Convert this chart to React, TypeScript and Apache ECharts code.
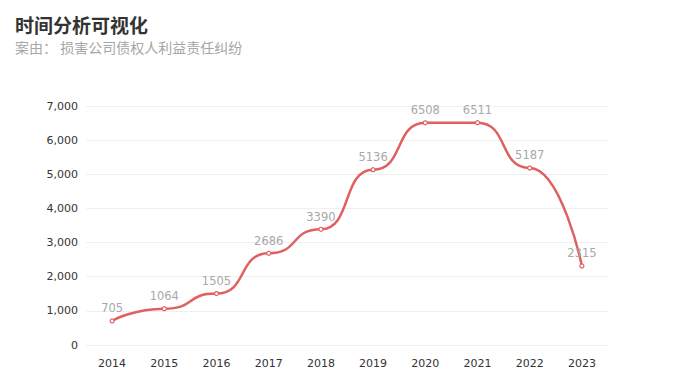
import React, { useEffect, useRef } from "react";
import * as echarts from "echarts";

const years = ["2014", "2015", "2016", "2017", "2018", "2019", "2020", "2021", "2022", "2023"];
const counts = [705, 1064, 1505, 2686, 3390, 5136, 6508, 6511, 5187, 2315];
const titleText = "时间分析可视化";
const subtitleText = "案由： 损害公司债权人利益责任纠纷";

export default function App() {
  const ref = useRef<HTMLDivElement>(null);
  useEffect(() => {
    if (!ref.current) return;
    const chart = echarts.init(ref.current, undefined, { renderer: "svg" });
    chart.setOption({
      animation: false,
      backgroundColor: "#ffffff",
      title: [
        {
          text: titleText,
          left: 15,
          top: 14,
          padding: 0,
          textStyle: {
            fontSize: 19,
            lineHeight: 20,
            fontWeight: "bold",
            color: "#333",
            fontFamily: "Noto Sans CJK SC",
          },
        },
        {
          text: subtitleText,
          left: 15,
          top: 39,
          padding: 0,
          textStyle: {
            fontSize: 14,
            lineHeight: 15,
            fontWeight: "normal",
            color: "#a6a6a6",
            fontFamily: "Noto Sans CJK SC",
          },
        },
      ],
      grid: { left: 86, right: 73, top: 106, bottom: 45 },
      xAxis: {
        type: "category",
        data: years,
        boundaryGap: true,
        axisLine: { show: false },
        axisTick: { show: false },
        axisLabel: { color: "#333", fontSize: 11, margin: 13, fontFamily: "DejaVu Sans" },
      },
      yAxis: {
        type: "value",
        min: 0,
        max: 7000,
        interval: 1000,
        axisLine: { show: false },
        axisTick: { show: false },
        axisLabel: {
          color: "#333",
          fontSize: 11,
          margin: 8,
          fontFamily: "DejaVu Sans",
          formatter: (v: number) => v.toLocaleString("en-US"),
        },
        splitLine: { lineStyle: { color: "#f0f0f0" } },
      },
      series: [
        {
          type: "line",
          data: counts,
          smooth: 0.6,
          smoothMonotone: "x",
          symbol: "circle",
          symbolSize: 4,
          itemStyle: { color: "#ffffff", borderColor: "#e06060", borderWidth: 1.2 },
          lineStyle: { color: "#e06060", width: 2.5 },
          label: {
            show: true,
            position: "top",
            distance: 4,
            color: "#a8a8a8",
            fontSize: 11.5,
            fontFamily: "DejaVu Sans",
          },
        },
      ],
    });
    return () => chart.dispose();
  }, []);
  return (
    <div
      ref={ref}
      style={{ position: "fixed", left: 0, top: 0, width: 681, height: 390 }}
    />
  );
}
